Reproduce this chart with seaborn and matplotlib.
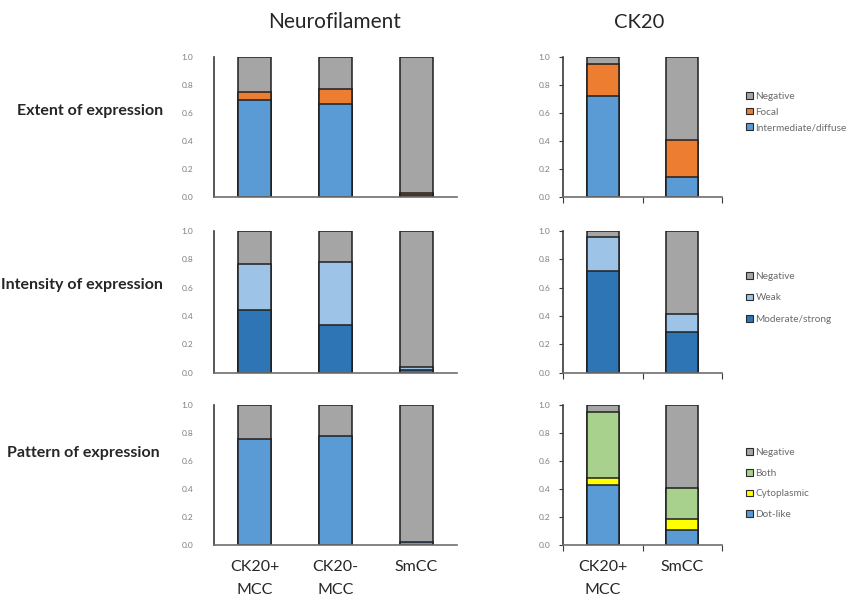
import numpy as np
import seaborn as sns
import matplotlib
matplotlib.use("Agg")
import matplotlib.pyplot as plt
from matplotlib.patches import Patch

sns.set_theme(style="white")
plt.rcParams['font.family'] = ['Lato', 'DejaVu Sans']

# categories
nf_groups = ["CK20+\nMCC", "CK20-\nMCC", "SmCC"]
ck_groups = ["CK20+\nMCC", "SmCC"]

# extent of expression (bottom -> top)
extent_labels = ["Intermediate/diffuse", "Focal", "Negative"]
nf_extent_diffuse = [0.69, 0.665, 0.015]
nf_extent_focal = [0.06, 0.105, 0.01]
nf_extent_negative = [0.25, 0.23, 0.975]
ck_extent_diffuse = [0.72, 0.145]
ck_extent_focal = [0.23, 0.265]
ck_extent_negative = [0.05, 0.59]

# intensity of expression
intensity_labels = ["Moderate/strong", "Weak", "Negative"]
nf_int_strong = [0.44, 0.335, 0.015]
nf_int_weak = [0.325, 0.445, 0.025]
nf_int_negative = [0.235, 0.22, 0.96]
ck_int_strong = [0.72, 0.285]
ck_int_weak = [0.235, 0.125]
ck_int_negative = [0.045, 0.59]

# pattern of expression
pattern_labels = ["Dot-like", "Cytoplasmic", "Both", "Negative"]
nf_pat_dot = [0.757, 0.779, 0.024]
nf_pat_negative = [0.243, 0.221, 0.976]
ck_pat_dot = [0.43, 0.107]
ck_pat_cyto = [0.05, 0.076]
ck_pat_both = [0.467, 0.224]
ck_pat_negative = [0.053, 0.593]

BLUE = "#5B9BD5"
ORANGE = "#ED7D31"
GRAY = "#A5A5A5"
LBLUE = "#9DC3E6"
DBLUE = "#2E75B6"
GREEN = "#A9D18E"
YELLOW = "#FFFF00"
EDGE = "#1f1f1f"


def stacked(ax, groups, layers, colors):
    # draw cumulative heights, tallest first, so each layer sits on the one below
    cum = np.zeros(len(groups))
    tops = []
    for vals in layers:
        cum = cum + np.array(vals)
        tops.append(cum.copy())
    for top, col in reversed(list(zip(tops, colors))):
        sns.barplot(x=groups, y=top, color=col, saturation=1, width=0.4,
                    edgecolor=EDGE, linewidth=1.1, errorbar=None, ax=ax)


def style(ax, n, show_x, boundary_ticks):
    ax.set_ylim(0, 1)
    ax.set_xlim(-0.5, n - 0.5)
    ax.set_yticks(np.arange(0, 1.01, 0.2))
    ax.set_yticklabels([f"{v:.1f}" for v in np.arange(0, 1.01, 0.2)],
                       fontsize=6, color="#7f7f7f")
    for s in ["top", "right"]:
        ax.spines[s].set_visible(False)
    ax.spines["left"].set_color("#3a3a3a")
    ax.spines["left"].set_linewidth(1.2)
    ax.spines["bottom"].set_color("#6e6e6e")
    ax.spines["bottom"].set_linewidth(1.2)
    ax.set_xlabel("")
    ax.set_ylabel("")
    if boundary_ticks:
        ax.tick_params(axis="y", left=True, length=3, width=0.8, color="#3a3a3a", pad=6)
        ax.set_xticks(np.arange(-0.5, n, 1.0), minor=True)
        ax.tick_params(axis="x", which="minor", bottom=True, length=4, width=0.8, color="#3a3a3a")
    else:
        ax.tick_params(axis="y", left=False, pad=9)
    ax.tick_params(axis="x", which="major", bottom=False, pad=5)
    if show_x:
        ax.set_xticks(range(n))
        ax.set_xticklabels(ax.get_xticklabels(), fontsize=11.5, linespacing=1.75)
    else:
        ax.set_xticklabels([])


fig = plt.figure(figsize=(8.56, 5.95), dpi=100)
W, H = 856, 595


def add_axes(x0, x1, y0, y1):
    return fig.add_axes([x0 / W, 1 - y1 / H, (x1 - x0) / W, (y1 - y0) / H])


rows = [(57, 197), (231, 372.5), (405, 545)]

# row 1 : extent
ax = add_axes(214, 457, *rows[0])
stacked(ax, nf_groups, [nf_extent_diffuse, nf_extent_focal, nf_extent_negative], [BLUE, ORANGE, GRAY])
style(ax, 3, False, False)
ax = add_axes(563, 722, *rows[0])
stacked(ax, ck_groups, [ck_extent_diffuse, ck_extent_focal, ck_extent_negative], [BLUE, ORANGE, GRAY])
style(ax, 2, False, True)

# row 2 : intensity
ax = add_axes(214, 457, *rows[1])
stacked(ax, nf_groups, [nf_int_strong, nf_int_weak, nf_int_negative], [DBLUE, LBLUE, GRAY])
style(ax, 3, False, False)
ax = add_axes(563, 722, *rows[1])
stacked(ax, ck_groups, [ck_int_strong, ck_int_weak, ck_int_negative], [DBLUE, LBLUE, GRAY])
style(ax, 2, False, True)

# row 3 : pattern
ax = add_axes(214, 457, *rows[2])
stacked(ax, nf_groups, [nf_pat_dot, nf_pat_negative], [BLUE, GRAY])
style(ax, 3, True, False)
ax = add_axes(563, 722, *rows[2])
stacked(ax, ck_groups, [ck_pat_dot, ck_pat_cyto, ck_pat_both, ck_pat_negative], [BLUE, YELLOW, GREEN, GRAY])
style(ax, 2, True, True)


def legend(labels, colors, top_px, spacing):
    handles = [Patch(facecolor=c, edgecolor="#2a2a2a", linewidth=0.8) for c in colors]
    fig.legend(handles[::-1], labels[::-1], loc="upper left",
               bbox_to_anchor=(746 / W, 1 - top_px / H), frameon=False,
               fontsize=7.2, labelcolor="#6a6a6a", handlelength=0.65, handleheight=0.65,
               handletextpad=0.3, labelspacing=spacing, borderpad=0, borderaxespad=0)


legend(extent_labels, [BLUE, ORANGE, GRAY], 92, 0.66)
legend(intensity_labels, [DBLUE, LBLUE, GRAY], 272, 1.25)
legend(pattern_labels, [BLUE, YELLOW, GREEN, GRAY], 448, 1.17)

# column titles
fig.text(335 / W, 1 - 22 / H, "Neurofilament", ha="center", va="center", fontsize=15)
fig.text(639 / W, 1 - 22 / H, "CK20", ha="center", va="center", fontsize=14.5)

# row labels
fig.text(163 / W, 1 - 111 / H, "Extent of expression", ha="right", va="center",
         fontsize=11.5, fontweight="bold")
fig.text(1 / W, 1 - 285 / H, "Intensity of expression", ha="left", va="center",
         fontsize=11.5, fontweight="bold")
fig.text(160 / W, 1 - 453 / H, "Pattern of expression", ha="right", va="center",
         fontsize=11.5, fontweight="bold")

fig.savefig("out.png", dpi=100)
